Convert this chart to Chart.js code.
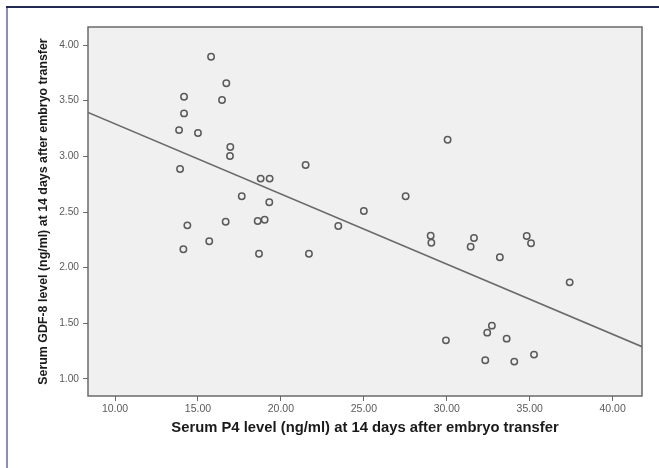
<!DOCTYPE html>
<html>
<head>
<meta charset="utf-8">
<script src="https://cdn.jsdelivr.net/npm/chart.js@4/dist/chart.umd.min.js"></script>
<style>
  html, body { margin: 0; padding: 0; background: #ffffff; }
  #c { display: block; }
</style>
</head>
<body>
<canvas id="c" width="659" height="468"></canvas>
<script>
// ---- data ----
const p4Values = [
  15.79, 16.71, 14.16, 16.45, 14.16, 13.86, 15.00, 16.95, 16.93,
  13.92, 17.64, 14.36, 16.67, 15.68, 14.12,
  21.49, 18.78, 19.32, 19.30, 18.60, 19.02, 25.00, 23.46, 18.68, 21.69,
  30.05, 29.03, 29.07, 31.64, 31.44, 34.82, 35.08,
  33.20, 37.41, 32.72, 32.44, 33.61, 29.95, 32.32, 34.07, 35.26,
  27.52
];
const gdf8Values = [
  3.895, 3.656, 3.536, 3.506, 3.386, 3.236, 3.210, 3.084, 3.003,
  2.886, 2.641, 2.380, 2.413, 2.237, 2.165,
  2.922, 2.800, 2.800, 2.587, 2.419, 2.431, 2.509, 2.374, 2.125, 2.125,
  3.149, 2.287, 2.224, 2.266, 2.188, 2.284, 2.219,
  2.093, 1.868, 1.479, 1.416, 1.362, 1.347, 1.168, 1.156, 1.219,
  2.641
];
// fit line end points (at the plot edges)
const fitX = [8.37, 41.77];
const fitY = [3.395, 1.29];
// axis ticks
const xTicks = [10, 15, 20, 25, 30, 35, 40];
const yTicks = [1.0, 1.5, 2.0, 2.5, 3.0, 3.5, 4.0];
const xRange = [8.37, 41.77];
const yRange = [0.847, 4.162];
const xTitle = 'Serum P4 level (ng/ml) at 14 days after embryo transfer';
const yTitle = 'Serum GDF-8 level (ng/ml) at 14 days after embryo transfer';

const points = p4Values.map((x, i) => ({ x: x, y: gdf8Values[i] }));
const fitLine = fitX.map((x, i) => ({ x: x, y: fitY[i] }));

const plotBg = {
  id: 'plotBg',
  beforeDraw(chart) {
    const { ctx, chartArea: a } = chart;
    ctx.save();
    ctx.fillStyle = '#f0f0f0';
    ctx.fillRect(a.left, a.top, a.right - a.left, a.bottom - a.top);
    ctx.restore();
  },
  afterDraw(chart) {
    const { ctx, chartArea: a } = chart;
    ctx.save();
    ctx.strokeStyle = '#6a6a6a';
    ctx.lineWidth = 1.5;
    ctx.strokeRect(a.left, a.top, a.right - a.left, a.bottom - a.top);
    // outer frame (top and left rules)
    ctx.fillStyle = '#8a90b2';
    ctx.fillRect(6, 6, 2, chart.height - 6);
    ctx.fillStyle = '#222a55';
    ctx.fillRect(6, 6, chart.width - 6, 2);
    ctx.restore();
  }
};

new Chart(document.getElementById('c'), {
  type: 'scatter',
  data: {
    datasets: [
      {
        data: fitLine,
        showLine: true,
        borderColor: '#6a6a6a',
        borderWidth: 1.5,
        pointRadius: 0,
        fill: false
      },
      {
        data: points,
        pointRadius: 3.2,
        pointBorderWidth: 1.5,
        pointBorderColor: '#5a5a5a',
        pointBackgroundColor: 'rgba(0,0,0,0)',
        showLine: false
      }
    ]
  },
  options: {
    responsive: false,
    animation: false,
    devicePixelRatio: 1,
    layout: { padding: { left: 8, top: 27, right: 17, bottom: 0 } },
    plugins: { legend: { display: false }, tooltip: { enabled: false } },
    scales: {
      x: {
        type: 'linear',
        min: xRange[0], max: xRange[1],
        afterBuildTicks(s) { s.ticks = xTicks.map(v => ({ value: v })); },
        afterFit(s) { s.height = 72; },
        grid: { drawOnChartArea: false, tickLength: 5, color: '#6a6a6a', lineWidth: 1 },
        border: { display: false },
        ticks: {
          padding: 2,
          color: '#5a5a5a',
          font: { family: 'Liberation Sans, Arial, sans-serif', size: 10.5 },
          callback: v => Number(v).toFixed(2)
        },
        title: {
          display: true,
          text: xTitle,
          color: '#1a1a1a',
          font: { family: 'Liberation Sans, Arial, sans-serif', size: 14.8, weight: 'bold' },
          padding: { top: 0, bottom: 31.1 }
        }
      },
      y: {
        type: 'linear',
        min: yRange[0], max: yRange[1],
        afterBuildTicks(s) { s.ticks = yTicks.map(v => ({ value: v })); },
        afterFit(s) { s.width = 80; },
        grid: { drawOnChartArea: false, tickLength: 5, color: '#6a6a6a', lineWidth: 1 },
        border: { display: false },
        ticks: {
          padding: 4,
          color: '#5a5a5a',
          font: { family: 'Liberation Sans, Arial, sans-serif', size: 10.2 },
          callback: v => Number(v).toFixed(2)
        },
        title: {
          display: true,
          text: yTitle,
          color: '#1a1a1a',
          font: { family: 'Liberation Sans, Arial, sans-serif', size: 12.4, weight: 'bold' },
          padding: { top: 28.6, bottom: 0 }
        }
      }
    }
  },
  plugins: [plotBg]
});
</script>
</body>
</html>
